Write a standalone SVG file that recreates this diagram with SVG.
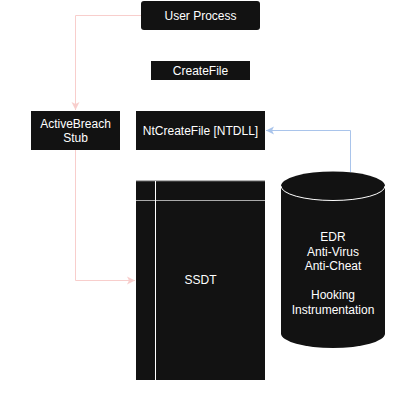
<svg xmlns="http://www.w3.org/2000/svg" width="412" height="406" viewBox="0 0 412 406">
<defs>
<style>
.n{fill:#121212;}
.t{font-family:"Liberation Sans",Arial,sans-serif;font-size:12px;fill:#ffffff;text-anchor:middle;}
.e{fill:none;stroke-width:1;}
</style>
<marker id="ap" markerWidth="10" markerHeight="10" refX="9" refY="5" orient="auto" markerUnits="userSpaceOnUse">
<path d="M1,1 L9,5 L1,9 L3,5 Z" fill="#F8CECC"/>
</marker>
<marker id="ab" markerWidth="10" markerHeight="10" refX="9" refY="5" orient="auto" markerUnits="userSpaceOnUse">
<path d="M1,1 L9,5 L1,9 L3,5 Z" fill="#A9C4EB"/>
</marker>
</defs>
<rect width="412" height="406" fill="#ffffff"/>
<g id="connectors">
<path class="e" d="M141,15.5 H75.5 V110" stroke="#F8CECC" marker-end="url(#ap)"/>
<path class="e" d="M75.5,150 V280.5 H135" stroke="#F8CECC" marker-end="url(#ap)"/>
<path class="e" d="M350.5,172 V130.5 H266" stroke="#A9C4EB" marker-end="url(#ab)"/>
</g>
<g id="user-process">
<rect class="n" x="141" y="1" width="119" height="29" rx="3"/>
<text class="t" x="200.5" y="19.5">User Process</text>
</g>
<g id="createfile">
<rect class="n" x="151" y="61" width="99" height="19"/>
<text class="t" x="200.5" y="74.5">CreateFile</text>
</g>
<g id="activebreach-stub">
<rect class="n" x="31" y="111" width="89" height="39"/>
<text class="t" x="75.5" y="127.5">ActiveBreach</text>
<text class="t" x="75.5" y="142">Stub</text>
</g>
<g id="ntcreatefile">
<rect class="n" x="136" y="111" width="129" height="39"/>
<text class="t" x="200.5" y="134.5">NtCreateFile [NTDLL]</text>
</g>
<g id="ssdt">
<rect class="n" x="136" y="181" width="129" height="199"/>
<line x1="136" y1="181" x2="265" y2="181" stroke="#666666" stroke-width="1"/>
<line x1="136" y1="200.5" x2="265" y2="200.5" stroke="#aaaaaa" stroke-width="1"/>
<line x1="155.5" y1="181" x2="155.5" y2="380" stroke="#ffffff" stroke-width="1"/>
<text class="t" x="200.5" y="283.5">SSDT</text>
</g>
<g id="edr">
<path class="n" d="M281,186 A52,14.5 0 0 1 385,186 V333.5 A52,14.5 0 0 1 281,333.5 Z"/>
<path d="M281,186 A52,14.5 0 0 0 385,186" fill="none" stroke="#ffffff" stroke-width="1"/>
<text class="t" x="333" y="241">EDR</text>
<text class="t" x="333" y="255.5">Anti-Virus</text>
<text class="t" x="333" y="270">Anti-Cheat</text>
<text class="t" x="333" y="299">Hooking</text>
<text class="t" x="333" y="313.5">Instrumentation</text>
</g>
</svg>
